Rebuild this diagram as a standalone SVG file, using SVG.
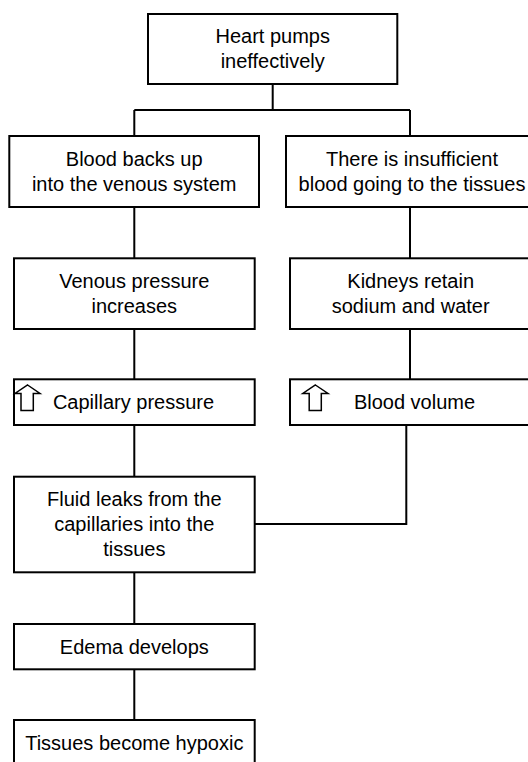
<svg xmlns="http://www.w3.org/2000/svg" width="528" height="762" viewBox="0 0 528 762">
<style>
.box{fill:#fff;stroke:#000;stroke-width:2}
.t{font-family:"Liberation Sans",Arial,sans-serif;font-size:20px;fill:#000;text-anchor:middle}
.c{fill:none;stroke:#000;stroke-width:2}
.arr{fill:#fff;stroke:#000;stroke-width:1.5;stroke-linejoin:miter}
</style>
<rect width="528" height="762" fill="#fff"/>
<g id="connectors">
<path class="c" d="M272.7,84 V110 M134.3,110 H410 M134.3,110 V136 M410,110 V136"/>
<path class="c" d="M134.3,207 V258.3 M134.3,329 V379.3 M134.3,425 V476.7 M134.3,572.3 V624 M134.3,669.3 V720"/>
<path class="c" d="M410,207 V258.3 M410,329 V379.3"/>
<path class="c" d="M406.3,425 V524 H254.7"/>
</g>
<g id="n1">
<rect class="box" x="148" y="14" width="249.3" height="70"/>
<text class="t" x="272.7" y="43">Heart pumps</text>
<text class="t" x="272.7" y="68">ineffectively</text>
</g>
<g id="n2">
<rect class="box" x="9.3" y="136" width="249.7" height="71"/>
<text class="t" x="134.2" y="165.5">Blood backs up</text>
<text class="t" x="134.2" y="190.5">into the venous system</text>
</g>
<g id="n3">
<rect class="box" x="286" y="136" width="252" height="71"/>
<text class="t" x="412" y="165.5">There is insufficient</text>
<text class="t" x="412" y="190.5">blood going to the tissues</text>
</g>
<g id="n4">
<rect class="box" x="14" y="258.3" width="240.7" height="70.7"/>
<text class="t" x="134.3" y="287.5">Venous pressure</text>
<text class="t" x="134.3" y="312.5">increases</text>
</g>
<g id="n5">
<rect class="box" x="290" y="258.3" width="241" height="70.7"/>
<text class="t" x="410.7" y="287.5">Kidneys retain</text>
<text class="t" x="410.7" y="312.5">sodium and water</text>
</g>
<g id="n6">
<rect class="box" x="14" y="379.3" width="240.7" height="45.7"/>
<path class="arr" d="M27.6,385 L40,393.5 L33.3,393.5 L33.3,410.6 L21,410.6 L21,393.5 L15,393.5 Z"/>
<text class="t" x="133.5" y="409">Capillary pressure</text>
</g>
<g id="n7">
<rect class="box" x="290" y="379.3" width="241" height="45.7"/>
<path class="arr" d="M315.4,385 L328,393.5 L321.3,393.5 L321.3,410.6 L309.2,410.6 L309.2,393.5 L302.8,393.5 Z"/>
<text class="t" x="414.5" y="409">Blood volume</text>
</g>
<g id="n8">
<rect class="box" x="14" y="476.7" width="240.7" height="95.6"/>
<text class="t" x="134.3" y="506">Fluid leaks from the</text>
<text class="t" x="134.3" y="531">capillaries into the</text>
<text class="t" x="134.3" y="556">tissues</text>
</g>
<g id="n9">
<rect class="box" x="14" y="624" width="240.7" height="45.3"/>
<text class="t" x="134.3" y="653.7">Edema develops</text>
</g>
<g id="n10">
<rect class="box" x="14" y="720" width="240.7" height="45.3"/>
<text class="t" x="134.3" y="749.5">Tissues become hypoxic</text>
</g>
</svg>
